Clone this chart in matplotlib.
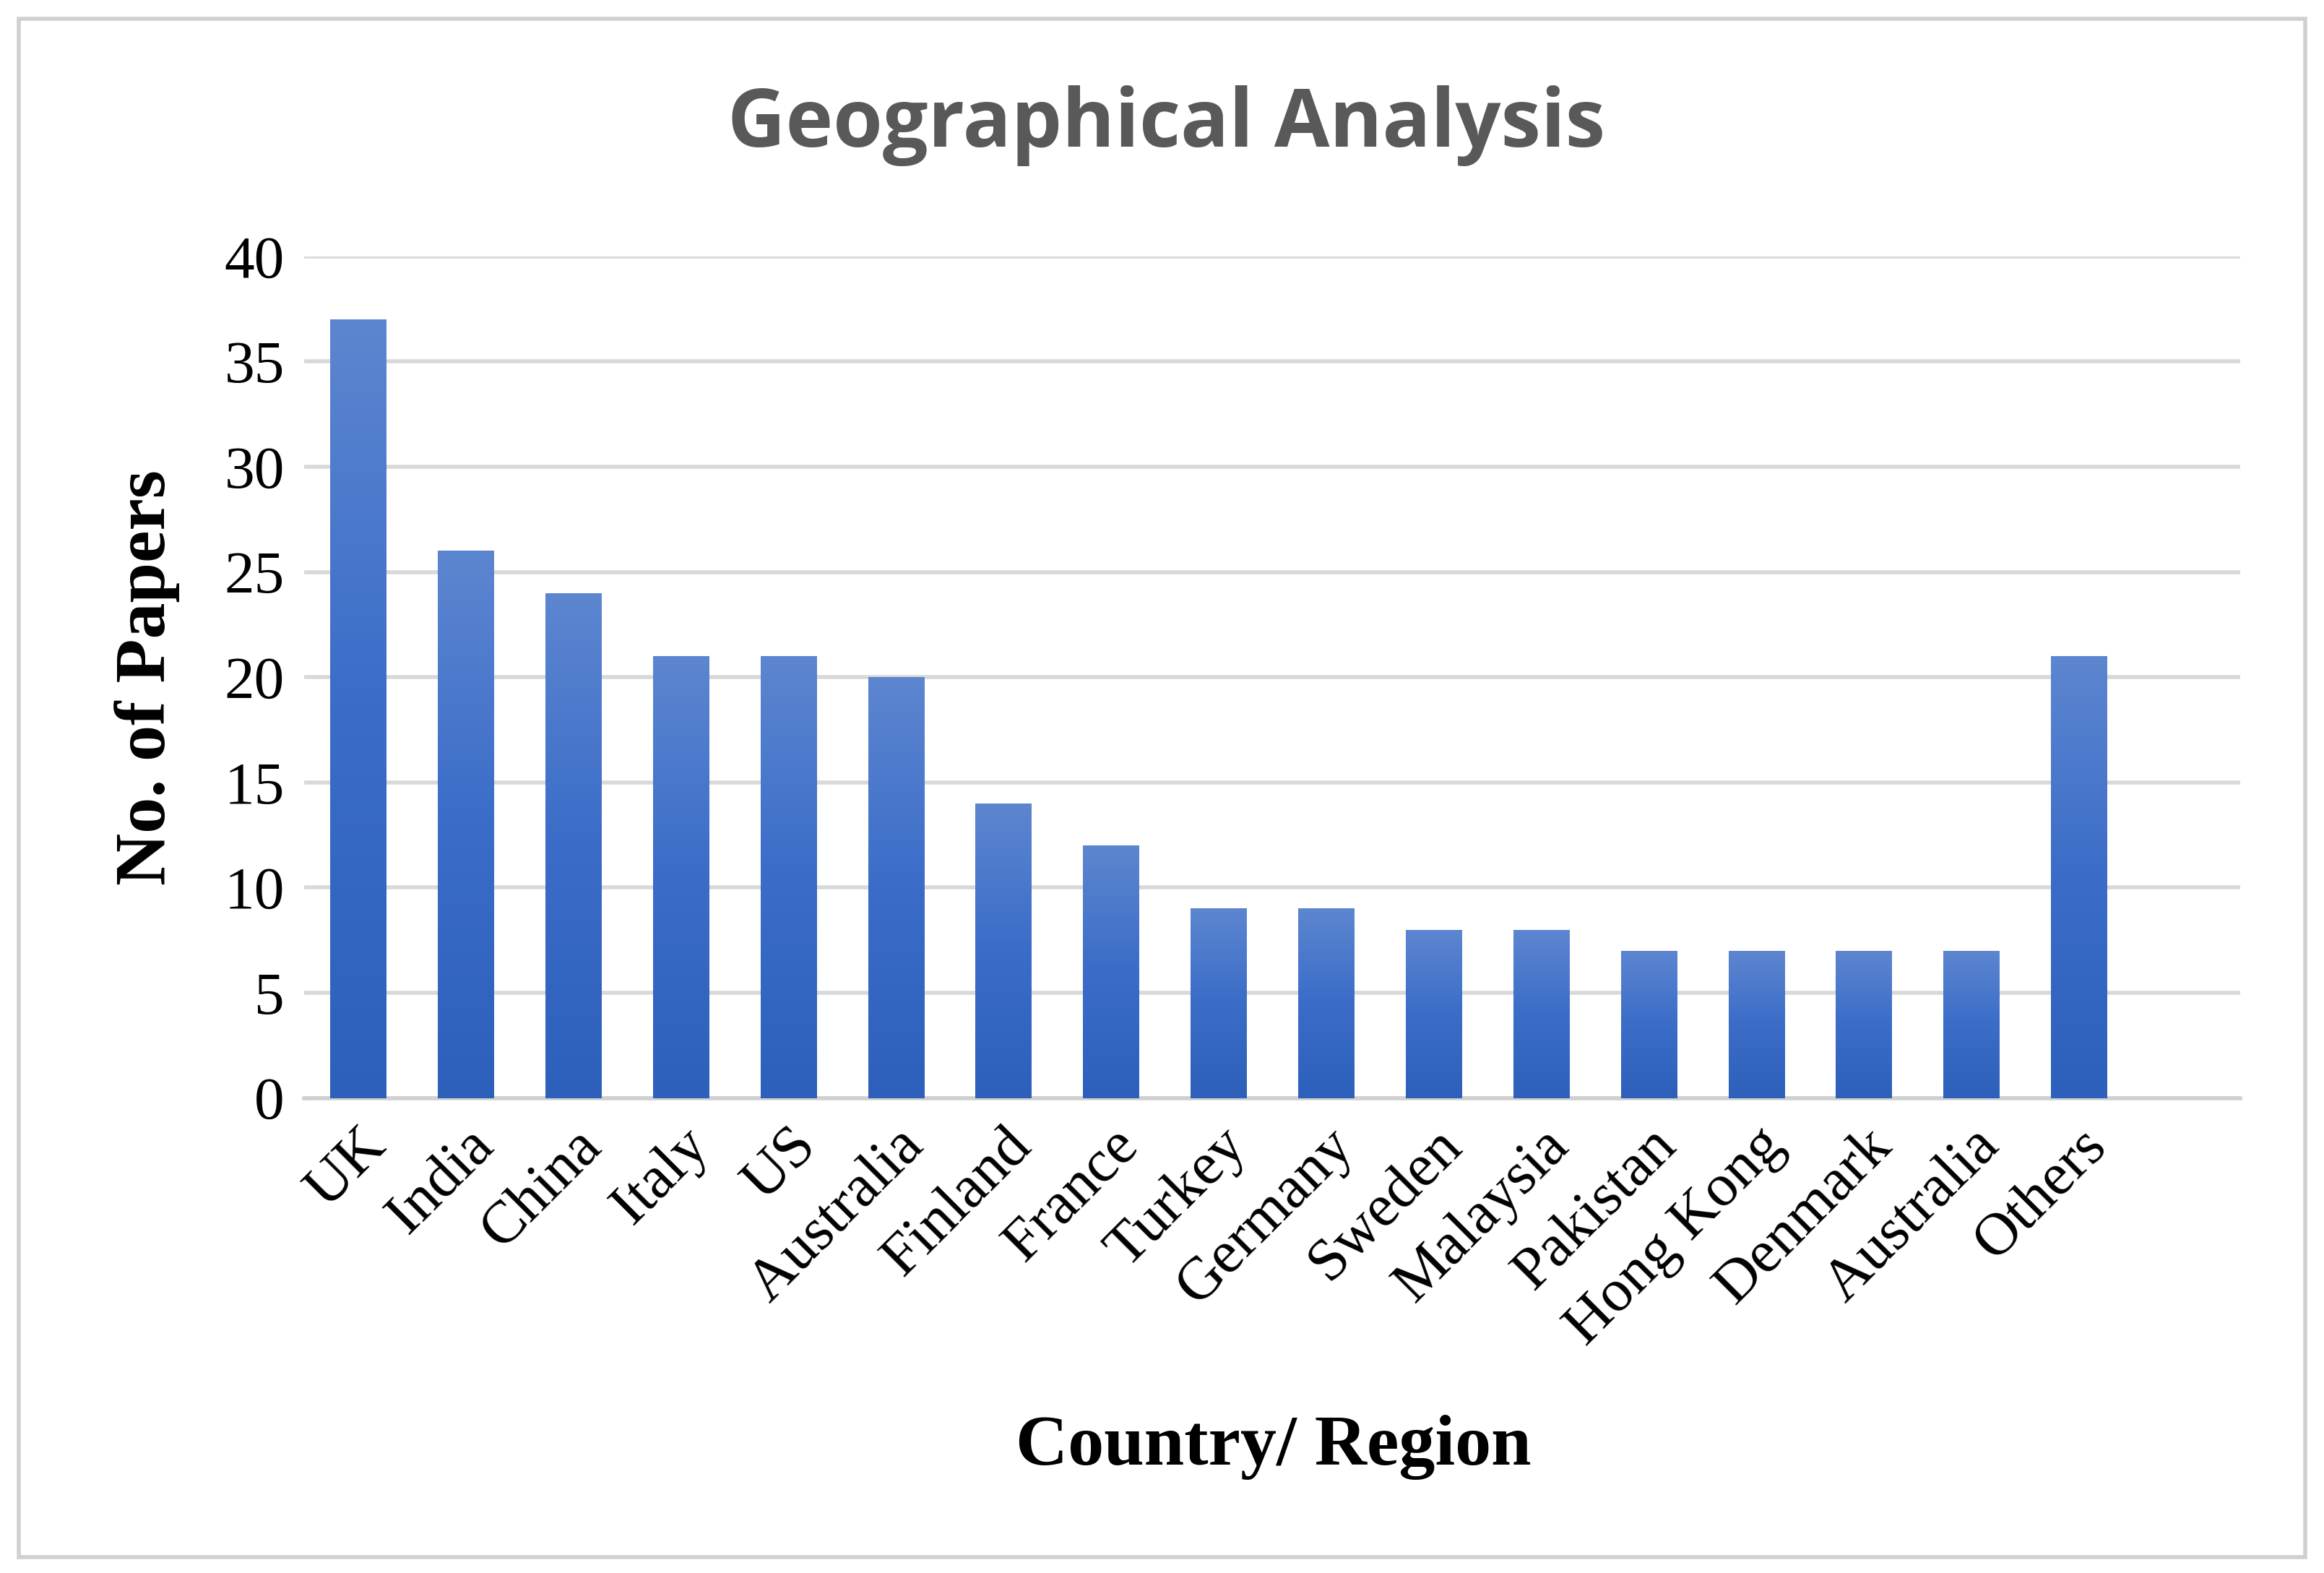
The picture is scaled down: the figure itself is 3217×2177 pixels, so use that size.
import matplotlib
matplotlib.use("Agg")
import matplotlib.pyplot as plt
import numpy as np
from matplotlib.patches import Rectangle
from matplotlib.colors import LinearSegmentedColormap

countries = ["UK", "India", "China", "Italy", "US", "Australia", "Finland", "France", "Turkey",
             "Germany", "Sweden", "Malaysia", "Pakistan", "Hong Kong", "Denmark", "Australia", "Others"]
papers = [37, 26, 24, 21, 21, 20, 14, 12, 9, 9, 8, 8, 7, 7, 7, 7, 21]
yticks = [0, 5, 10, 15, 20, 25, 30, 35, 40]

fig = plt.figure(figsize=(16.085, 10.885), dpi=200)
fig.patches.append(Rectangle((0.008, 0.01), 0.984, 0.978, transform=fig.transFigure,
                             fill=False, edgecolor="#d0d0d0", linewidth=2))
ax = fig.add_axes([0.131, 0.302, 0.833, 0.535])
x = np.arange(len(countries))
bars = ax.bar(x, papers, width=0.52, color="none", zorder=3)
cmap = LinearSegmentedColormap.from_list("g", ["#2d60bb", "#3a6cc8", "#5d86d0"])
grad = np.linspace(0, 1, 256).reshape(-1, 1)
for b in bars:
    ax.imshow(grad, extent=(b.get_x(), b.get_x() + b.get_width(), 0, b.get_height()),
              origin="lower", cmap=cmap, aspect="auto", zorder=3)
ax.set_xlim(-0.5, 17.5)
ax.set_ylim(0, 40)
ax.set_yticks(yticks)
ax.grid(axis="y", color="#d9d9d9", linewidth=2, zorder=0)
for s in ["top", "right", "left"]:
    ax.spines[s].set_visible(False)
ax.spines["bottom"].set_color("#d0d0d0")
ax.spines["bottom"].set_linewidth(2)
ax.tick_params(length=0, pad=10)
ax.set_xticks(x)
ax.set_xticklabels(countries, rotation=45, ha="right", rotation_mode="anchor",
                   family="Liberation Serif", fontsize=30)
for t in ax.get_yticklabels():
    t.set_family("Liberation Serif"); t.set_fontsize(30)
ax.set_ylabel("No. of Papers", family="Liberation Serif", fontsize=36, fontweight="bold", labelpad=22)
fig.text(0.548, 0.08, "Country/ Region", family="Liberation Serif", fontsize=36,
         fontweight="bold", ha="center", va="center")
fig.text(0.502, 0.92, "Geographical Analysis", family="Open Sans", fontsize=40,
         fontweight="bold", color="#595959", ha="center", va="center")
fig.savefig("out.png", dpi=200, facecolor="white")
